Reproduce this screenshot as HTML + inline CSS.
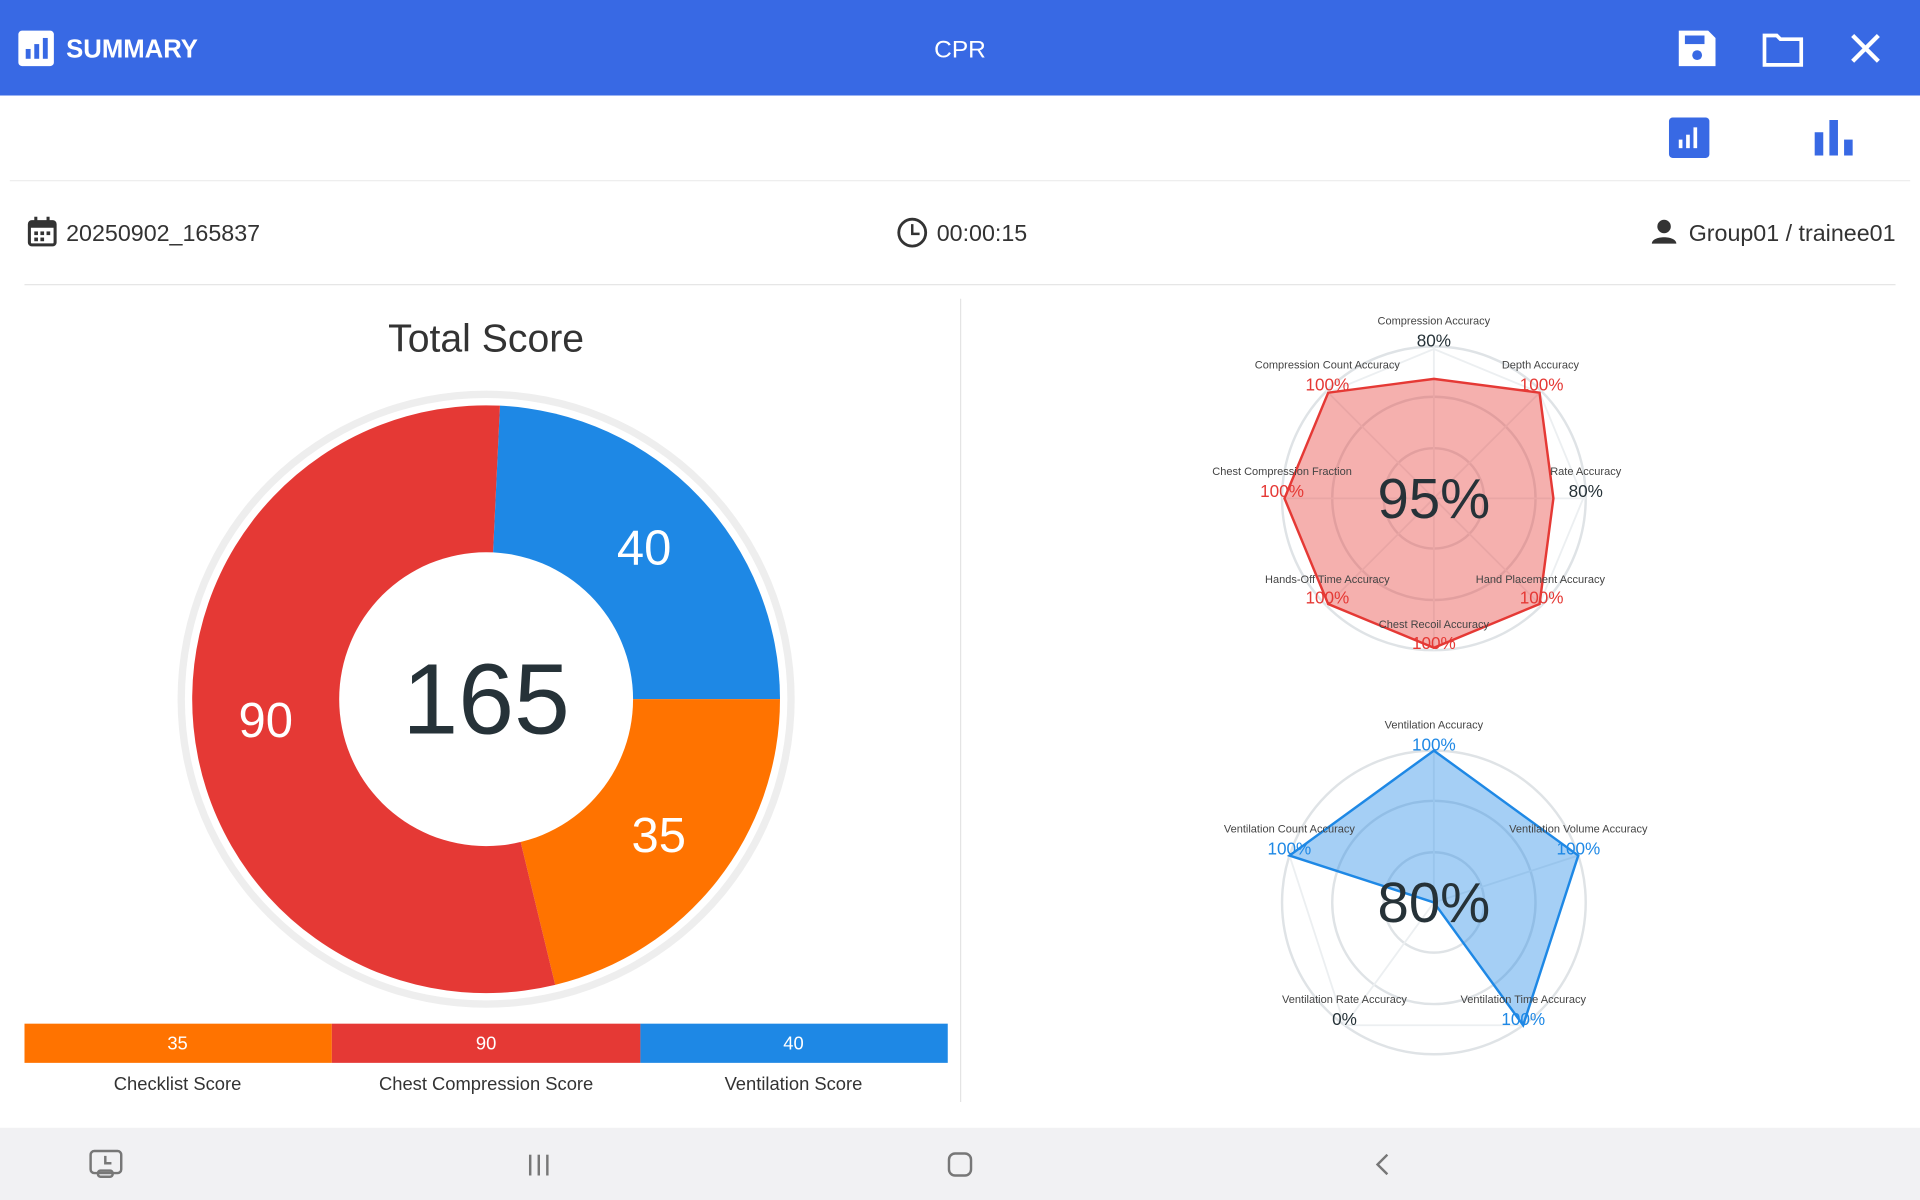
<!DOCTYPE html>
<html><head><meta charset="utf-8"><style>
html,body{margin:0;padding:0;width:1920px;height:1200px;overflow:hidden;background:#fff;font-family:"Liberation Sans",sans-serif}
#w{position:absolute;left:0;top:0;width:1568px;height:980px;transform:scale(1.22449);transform-origin:0 0;background:#fff}
.a{position:absolute;white-space:nowrap}
</style></head><body><div id="w">
<div class="a" style="left:0;top:0;width:1568px;height:78px;background:#3869e4"></div>
<svg class="a" style="left:0;top:0" width="1568" height="980">
 <!-- header icons -->
 <rect x="15" y="25" width="29" height="29" rx="3" fill="#fff"/>
 <rect x="21" y="40" width="4" height="8" fill="#3869e4"/><rect x="28" y="36" width="4" height="12" fill="#3869e4"/><rect x="35" y="31" width="4" height="17" fill="#3869e4"/>
 <path d="M1371 25h24l6 6v23h-30z" fill="#fff"/><rect x="1376" y="29" width="16" height="7" fill="#3869e4"/><circle cx="1386" cy="45" r="4" fill="#3869e4"/>
 <path d="M1441 29h10l3 3h17v21h-30z" fill="none" stroke="#fff" stroke-width="3"/>
 <path d="M1513 29l21 21M1534 29l-21 21" stroke="#fff" stroke-width="3.5"/>
 <!-- tabs -->
 <rect x="1363" y="96" width="33" height="33" rx="3" fill="#3869e4"/>
 <rect x="1371" y="114" width="3" height="7" fill="#fff"/><rect x="1377" y="110" width="3" height="11" fill="#fff"/><rect x="1383" y="104" width="3" height="17" fill="#fff"/>
 <rect x="1482" y="108" width="7" height="19" fill="#3869e4"/><rect x="1494" y="98" width="7" height="29" fill="#3869e4"/><rect x="1506" y="114" width="7" height="13" fill="#3869e4"/>
 <line x1="8" y1="147.5" x2="1560" y2="147.5" stroke="#eee"/>
 <line x1="20" y1="232.5" x2="1548" y2="232.5" stroke="#e2e2e2"/>
 <line x1="784.5" y1="244" x2="784.5" y2="900" stroke="#e4e4e4"/>
 <!-- info icons -->
 <rect x="24" y="181" width="21" height="19" rx="2" fill="none" stroke="#333" stroke-width="2.5"/><rect x="24" y="181" width="21" height="5" fill="#333"/>
 <rect x="28" y="177" width="2.5" height="5" fill="#333"/><rect x="38" y="177" width="2.5" height="5" fill="#333"/>
 <g fill="#333"><rect x="28" y="189" width="3" height="3"/><rect x="33" y="189" width="3" height="3"/><rect x="38" y="189" width="3" height="3"/><rect x="28" y="194" width="3" height="3"/><rect x="33" y="194" width="3" height="3"/></g>
 <circle cx="745" cy="190" r="11" fill="none" stroke="#333" stroke-width="2.3"/><path d="M745 183v8h6" fill="none" stroke="#333" stroke-width="2"/>
 <circle cx="1359" cy="185" r="5.5" fill="#333"/><path d="M1349 199c0-7 20-7 20 0z" fill="#333"/>
 <!-- donut -->
 <circle cx="397" cy="571" r="252" fill="#eeeeee"/>
 <circle cx="397" cy="571" r="246" fill="#fff"/>
 <path d="M397 571L408.3 331.3A240 240 0 0 1 637 571Z" fill="#1e88e5"/>
 <path d="M397 571L637 571A240 240 0 0 1 453.4 804.3Z" fill="#ff7300"/>
 <path d="M397 571L453.4 804.3A240 240 0 1 1 408.3 331.3Z" fill="#e53935"/>
 <circle cx="397" cy="571" r="120" fill="#fff"/>
 <!-- bars -->
 <rect x="20" y="836" width="251" height="32" fill="#ff7300"/>
 <rect x="271" y="836" width="252" height="32" fill="#e53935"/>
 <rect x="523" y="836" width="251" height="32" fill="#1e88e5"/>
 <!-- radar 1 -->
 <g fill="none" stroke="#dfe3e6" stroke-width="2">
  <circle cx="1171" cy="407" r="41"/><circle cx="1171" cy="407" r="83"/><circle cx="1171" cy="407" r="124"/>
 </g>
 <g stroke="#eceff1" stroke-width="1.5">
  <line x1="1171" y1="283" x2="1171" y2="531"/><line x1="1047" y1="407" x2="1295" y2="407"/>
  <line x1="1083" y1="319" x2="1259" y2="495"/><line x1="1259" y1="319" x2="1083" y2="495"/>
  <polygon points="1171,285 1257.3,320.7 1293,407 1257.3,493.3 1171,529 1084.7,493.3 1049,407 1084.7,320.7" fill="none"/>
 </g>
 <polygon points="1171,309.4 1257.3,320.7 1268.6,407 1257.3,493.3 1171,529 1084.7,493.3 1049,407 1084.7,320.7" fill="rgba(229,57,53,0.4)" stroke="#e53935" stroke-width="2"/>
 <!-- radar 2 -->
 <g fill="none" stroke="#dfe3e6" stroke-width="2">
  <circle cx="1171" cy="737" r="41"/><circle cx="1171" cy="737" r="83"/><circle cx="1171" cy="737" r="124"/>
 </g>
 <g stroke="#eceff1" stroke-width="1.5" fill="none">
  <line x1="1171" y1="737" x2="1171" y2="613"/><line x1="1171" y1="737" x2="1288.9" y2="698.7"/><line x1="1171" y1="737" x2="1243.9" y2="837.3"/><line x1="1171" y1="737" x2="1098.1" y2="837.3"/><line x1="1171" y1="737" x2="1053.1" y2="698.7"/>
  <polygon points="1171,613 1288.9,698.7 1243.9,837.3 1098.1,837.3 1053.1,698.7"/>
 </g>
 <polygon points="1171,613 1288.9,698.7 1243.9,837.3 1171,737 1053.1,698.7" fill="rgba(30,136,229,0.4)" stroke="#1e88e5" stroke-width="2"/>
 <!-- bottom nav -->
 <rect x="0" y="921" width="1568" height="59" fill="#f1f1f3"/>
 <rect x="74" y="940" width="25" height="18" rx="3" fill="none" stroke="#777" stroke-width="2"/><path d="M86 944v6h5" stroke="#777" stroke-width="2" fill="none"/><rect x="80" y="956" width="12" height="5" rx="2" fill="none" stroke="#777" stroke-width="2"/>
 <g stroke="#777" stroke-width="2"><line x1="433" y1="943" x2="433" y2="960"/><line x1="440" y1="943" x2="440" y2="960"/><line x1="447" y1="943" x2="447" y2="960"/></g>
 <rect x="775" y="942" width="18" height="18" rx="5" fill="none" stroke="#777" stroke-width="2"/>
 <path d="M1133 943l-8 8 8 8" fill="none" stroke="#777" stroke-width="2"/>
 <!-- texts -->
 <g font-family="Liberation Sans, sans-serif">
  <text x="54" y="47" font-size="21" fill="#fff" font-weight="bold">SUMMARY</text>
  <text x="784" y="47" font-size="20" fill="#fff" text-anchor="middle">CPR</text>
  <text x="54" y="197" font-size="19" fill="#333">20250902_165837</text>
  <text x="765" y="197" font-size="19" fill="#333">00:00:15</text>
  <text x="1548" y="197" font-size="19" fill="#333" text-anchor="end">Group01 / trainee01</text>
  <text x="397" y="287" font-size="32" fill="#333" text-anchor="middle">Total Score</text>
  <text x="397" y="599" font-size="82" fill="#263238" text-anchor="middle">165</text>
  <g font-size="40" fill="#fff" text-anchor="middle"><text x="526" y="461">40</text><text x="538" y="696">35</text><text x="217" y="602">90</text></g>
  <g font-size="15" fill="#fff" text-anchor="middle"><text x="145" y="857">35</text><text x="397" y="857">90</text><text x="648" y="857">40</text></g>
  <g font-size="15" fill="#333" text-anchor="middle"><text x="145" y="890">Checklist Score</text><text x="397" y="890">Chest Compression Score</text><text x="648" y="890">Ventilation Score</text></g>
  <text x="1171" y="423" font-size="46" fill="#263238" text-anchor="middle">95%</text>
  <text x="1171" y="753" font-size="46" fill="#263238" text-anchor="middle">80%</text>
  <g font-size="9" fill="#444" text-anchor="middle">
   <text x="1171" y="265">Compression Accuracy</text><text x="1258" y="301">Depth Accuracy</text><text x="1295" y="388">Rate Accuracy</text><text x="1258" y="476">Hand Placement Accuracy</text><text x="1171" y="513">Chest Recoil Accuracy</text><text x="1084" y="476">Hands-Off Time Accuracy</text><text x="1047" y="388">Chest Compression Fraction</text><text x="1084" y="301">Compression Count Accuracy</text>
   <text x="1171" y="595">Ventilation Accuracy</text><text x="1053" y="680">Ventilation Count Accuracy</text><text x="1289" y="680">Ventilation Volume Accuracy</text><text x="1098" y="819">Ventilation Rate Accuracy</text><text x="1244" y="819">Ventilation Time Accuracy</text>
  </g>
  <g font-size="14" text-anchor="middle">
   <text x="1171" y="283" fill="#263238">80%</text><text x="1259" y="319" fill="#e53935">100%</text><text x="1295" y="406" fill="#263238">80%</text><text x="1259" y="493" fill="#e53935">100%</text><text x="1171" y="530" fill="#e53935">100%</text><text x="1084" y="493" fill="#e53935">100%</text><text x="1047" y="406" fill="#e53935">100%</text><text x="1084" y="319" fill="#e53935">100%</text>
   <text x="1171" y="613" fill="#1e88e5">100%</text><text x="1053" y="698" fill="#1e88e5">100%</text><text x="1289" y="698" fill="#1e88e5">100%</text><text x="1098" y="837" fill="#263238">0%</text><text x="1244" y="837" fill="#1e88e5">100%</text>
  </g>
 </g>
</svg>
</div></body></html>
